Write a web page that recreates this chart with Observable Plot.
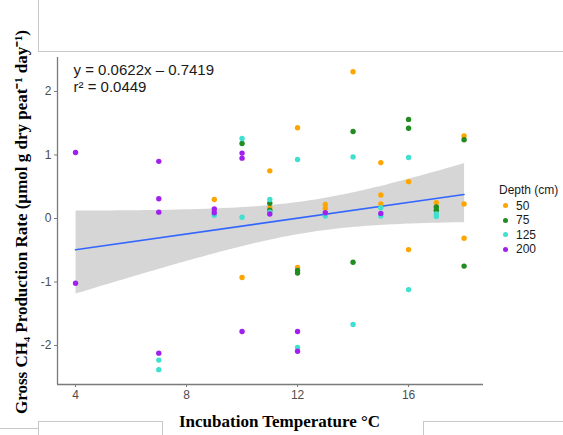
<!DOCTYPE html>
<html>
<head>
<meta charset="utf-8">
<script src="https://cdn.jsdelivr.net/npm/d3@7"></script>
<script src="https://cdn.jsdelivr.net/npm/@observablehq/plot@0.6"></script>
<style>
  html, body { margin: 0; padding: 0; background: #fff; }
  #wrap { position: relative; width: 563px; height: 435px; overflow: hidden; background: #fff; }
  #chart svg { display: block; }
  .edge { position: absolute; border: 0 solid #c8c8c8; box-sizing: border-box; }
  #legend { position: absolute; left: 499px; top: 183px; font: 12px "Liberation Sans", Arial, sans-serif; color: #1a1a1a; }
  #legend .title { height: 14px; line-height: 14px; margin-bottom: 1.5px; }
  #legend .row { height: 14.5px; line-height: 14.5px; display: flex; align-items: center; }
  #legend .dot { width: 5px; height: 5px; border-radius: 50%; margin-left: 4px; margin-right: 8px; }
</style>
</head>
<body>
<div id="wrap">
  <div class="edge" style="left:38px;top:-1px;width:530px;height:53px;border-left-width:1px;border-bottom-width:1px;"></div>
  <div class="edge" style="left:-1px;top:428px;width:40px;height:10px;border-top-width:1px;"></div>
  <div class="edge" style="left:38px;top:421px;width:125px;height:20px;border-top-width:1px;border-right-width:1px;border-left-width:1px;"></div>
  <div class="edge" style="left:423px;top:421px;width:150px;height:20px;border-top-width:1px;border-left-width:1px;"></div>
  <div id="chart"></div>
  <div id="legend"></div>
</div>
<script>
// Gross CH4 production rate by incubation temperature, one pair of arrays per depth
const depths = ["50", "75", "125", "200"];
const depthColors = ["#FFA500", "#228B22", "#40E0D0", "#A020F0"];

const temp50 = [9, 10, 11, 11, 12, 12, 13, 13, 14, 15, 15, 15, 16, 16, 17, 18, 18, 18];
const rate50 = [0.30, -0.93, 0.75, 0.17, 1.43, -0.77, 0.22, 0.16, 2.31, 0.88, 0.37, 0.23, 0.58, -0.49, 0.25, 1.30, 0.23, -0.31];

const temp75 = [10, 11, 11, 12, 12, 14, 14, 16, 16, 17, 17, 18, 18];
const rate75 = [1.18, 0.24, 0.13, -0.82, -0.86, 1.37, -0.69, 1.56, 1.42, 0.18, 0.13, 1.24, -0.75];

const temp125 = [7, 7, 9, 10, 10, 11, 11, 12, 12, 13, 14, 14, 15, 15, 16, 16, 17, 17];
const rate125 = [-2.23, -2.38, 0.05, 1.26, 0.02, 0.30, 0.10, 0.93, -2.03, 0.04, 0.97, -1.67, 0.17, 0.04, 0.96, -1.12, 0.07, 0.03];

const temp200 = [4, 4, 7, 7, 7, 7, 9, 9, 10, 10, 10, 11, 12, 12, 13, 15];
const rate200 = [1.04, -1.02, 0.90, 0.31, 0.10, -2.12, 0.15, 0.09, 1.03, 0.95, -1.78, 0.07, -1.78, -2.09, 0.09, 0.08];

// Reported linear fit
const slope = 0.0622;
const intercept = -0.7419;
const rSquared = 0.0449;

const xTicks = [4, 8, 12, 16];
const yTicks = [-2, -1, 0, 1, 2];
const xDomain = [3.35, 18.7];
const yDomain = [-2.614, 2.535];

const series = [[temp50, rate50], [temp75, rate75], [temp125, rate125], [temp200, rate200]];
const points = series.flatMap(([temps, rates], i) =>
  temps.map((t, j) => ({temp: t, rate: rates[j], depth: depths[i]}))
);

const fitLine = d3.extent(points, d => d.temp).map(t => ({temp: t, rate: slope * t + intercept}));

const equation = `y = ${slope}x \u2013 ${Math.abs(intercept)}\nr\u00b2 = ${rSquared}`;
const yTitle = "Gross CH\u2084 Production Rate (\u00b5mol g dry peat\u207b\u00b9 day\u207b\u00b9)";
const xTitle = "Incubation Temperature \u00b0C";

const serif = "'Liberation Serif', 'Times New Roman', serif";
const axisGray = "#7a7a7a";

const chart = Plot.plot({
  width: 563,
  height: 435,
  marginLeft: 57,
  marginRight: 80,
  marginTop: 57,
  marginBottom: 51,
  style: {fontFamily: "'Liberation Sans', Arial, sans-serif", fontSize: "12px", background: "#fff"},
  x: {domain: xDomain},
  y: {domain: yDomain},
  color: {domain: depths, range: depthColors},
  marks: [
    Plot.linearRegressionY(points, {x: "temp", y: "rate", ci: 0.95, stroke: "none", fill: "#999999", fillOpacity: 0.4}),
    Plot.line(fitLine, {x: "temp", y: "rate", stroke: "#3366FF", strokeWidth: 1.6}),
    Plot.dot(points, {x: "temp", y: "rate", fill: "depth", r: 2.7}),
    Plot.ruleX([xDomain[0]], {stroke: axisGray, strokeWidth: 1.3}),
    Plot.ruleY([yDomain[0]], {stroke: axisGray, strokeWidth: 1.3}),
    Plot.axisX({ticks: xTicks, tickSize: 3, tickPadding: 3, label: null, stroke: axisGray, fill: "#4d4d4d", fontSize: 12}),
    Plot.axisY({ticks: yTicks, tickSize: 3, tickPadding: 3, label: null, stroke: axisGray, fill: "#4d4d4d", fontSize: 12, tickFormat: d => String(d)}),
    Plot.text([equation], {text: d => d, frameAnchor: "top-left", textAnchor: "start", lineAnchor: "top", dx: 16, dy: 5, fontSize: 15, lineHeight: 1.15, fill: "#1a1a1a"}),
    Plot.text([yTitle], {text: d => d, frameAnchor: "left", textAnchor: "middle", lineAnchor: "middle", rotate: -90, dx: -36, dy: 1, fontFamily: serif, fontWeight: "bold", fontSize: 17, fill: "#000"}),
    Plot.text([xTitle], {text: d => d, frameAnchor: "bottom", textAnchor: "middle", lineAnchor: "middle", dx: 9, dy: 37, fontFamily: serif, fontWeight: "bold", fontSize: 17, fill: "#000"})
  ]
});
document.getElementById("chart").appendChild(chart);

// Depth legend
const legend = document.getElementById("legend");
const title = document.createElement("div");
title.className = "title";
title.textContent = "Depth (cm)";
legend.appendChild(title);
depths.forEach((d, i) => {
  const row = document.createElement("div");
  row.className = "row";
  const dot = document.createElement("span");
  dot.className = "dot";
  dot.style.background = depthColors[i];
  const label = document.createElement("span");
  label.textContent = d;
  row.appendChild(dot);
  row.appendChild(label);
  legend.appendChild(row);
});
</script>
</body>
</html>
